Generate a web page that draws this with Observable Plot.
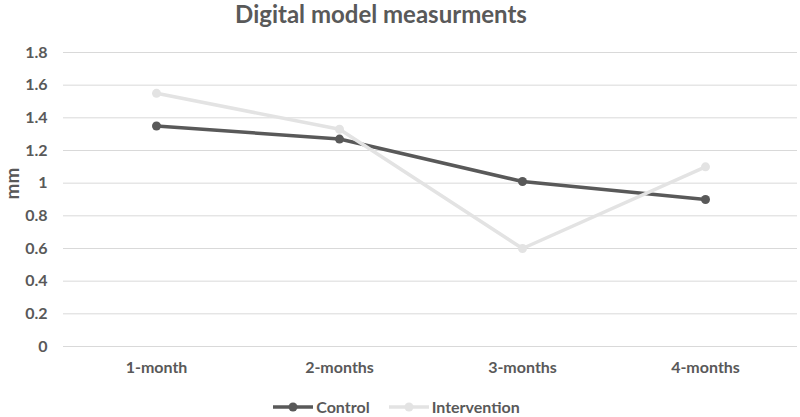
<!DOCTYPE html>
<html><head><meta charset="utf-8">
<script src="https://cdn.jsdelivr.net/npm/d3@7"></script>
<script src="https://cdn.jsdelivr.net/npm/@observablehq/plot@0.6"></script>
<style>
body{margin:0;background:#fff;font-family:Lato,sans-serif;color:#595959;width:800px;height:417px;overflow:hidden;position:relative}
#title{height:35px;line-height:28px;text-align:center;font-size:24px;font-weight:bold;padding-right:38px;box-sizing:border-box;white-space:nowrap}
#chart{height:355px}
#legend{position:absolute;top:397px;left:0;width:800px;display:flex;justify-content:center;gap:18px;font-size:16px;font-weight:bold;padding-right:8px;box-sizing:border-box}
.item{display:flex;align-items:center;gap:2px}
</style></head><body>
<div id="title">Digital model measurments</div>
<div id="chart"></div>
<div id="legend"></div>
<script>
const months = ["1-month", "2-months", "3-months", "4-months"];
const control = [1.35, 1.27, 1.01, 0.90];
const intervention = [1.55, 1.33, 0.60, 1.10];
const seriesNames = ["Control", "Intervention"];
const seriesColors = ["#595959", "#e3e3e3"];
const yTicks = [0, 0.2, 0.4, 0.6, 0.8, 1, 1.2, 1.4, 1.6, 1.8];
const yTickLabels = ["0", "0.2", "0.4", "0.6", "0.8", "1", "1.2", "1.4", "1.6", "1.8"];

const rows = [];
months.forEach((m, i) => {
  rows.push({month: m, series: seriesNames[0], value: control[i]});
});
months.forEach((m, i) => {
  rows.push({month: m, series: seriesNames[1], value: intervention[i]});
});

const chart = Plot.plot({
  width: 800, height: 355,
  marginTop: 17, marginBottom: 44, marginLeft: 63, marginRight: 3,
  style: {fontFamily: "Lato, sans-serif", fontSize: "16px", fontWeight: "bold", color: "#595959", background: "#fff"},
  x: {type: "point", domain: months, padding: 0.5, label: null},
  y: {domain: [0, 1.8], label: "mm"},
  color: {domain: seriesNames, range: seriesColors},
  marks: [
    Plot.gridY(yTicks, {stroke: "#d9d9d9", strokeOpacity: 1, strokeWidth: 1}),
    Plot.axisY(yTicks, {tickSize: 0, tickPadding: 16, tickFormat: (d, i) => yTickLabels[i], fill: "#595959", label: null}),
    Plot.axisX({tickSize: 0, tickPadding: 15, fill: "#595959", label: null}),
    Plot.text(["mm"], {frameAnchor: "left", dx: -51, rotate: -90, fontSize: 19, fontWeight: "bold", fill: "#595959"}),
    Plot.lineY(rows, {x: "month", y: "value", z: "series", stroke: "series", strokeWidth: 3.5}),
    Plot.dot(rows, {x: "month", y: "value", fill: "series", r: 4.5})
  ]
});
document.getElementById("chart").appendChild(chart);

const legend = document.getElementById("legend");
seriesNames.forEach((name, i) => {
  const item = document.createElement("div");
  item.className = "item";
  const ns = "http://www.w3.org/2000/svg";
  const sw = document.createElementNS(ns, "svg");
  sw.setAttribute("width", "42"); sw.setAttribute("height", "12");
  const ln = document.createElementNS(ns, "line");
  ln.setAttribute("x1", "1"); ln.setAttribute("x2", "41"); ln.setAttribute("y1", "6"); ln.setAttribute("y2", "6");
  ln.setAttribute("stroke", seriesColors[i]); ln.setAttribute("stroke-width", "3.5");
  const c = document.createElementNS(ns, "circle");
  c.setAttribute("cx", "21"); c.setAttribute("cy", "6"); c.setAttribute("r", "4.5"); c.setAttribute("fill", seriesColors[i]);
  sw.appendChild(ln); sw.appendChild(c);
  const t = document.createElement("span");
  t.textContent = name;
  item.appendChild(sw); item.appendChild(t);
  legend.appendChild(item);
});
</script>
</body></html>
